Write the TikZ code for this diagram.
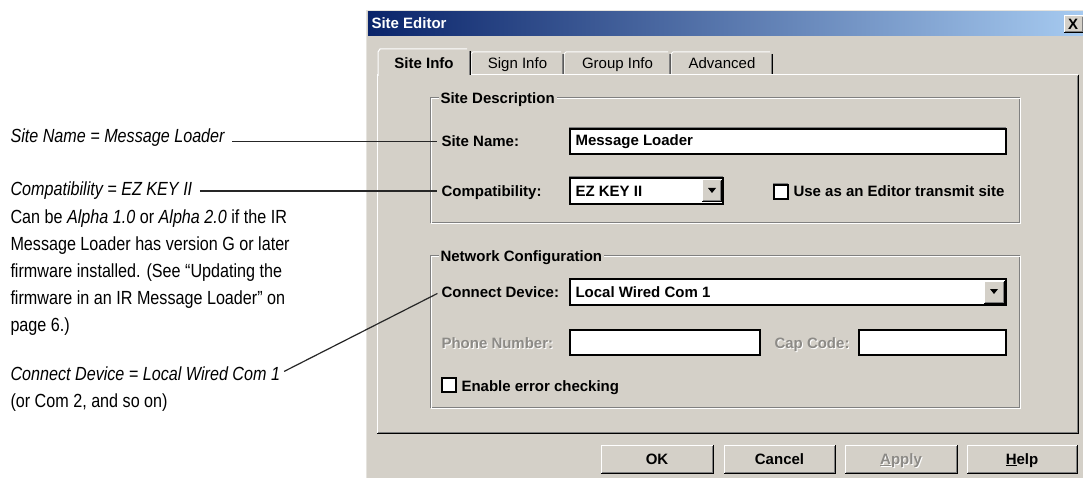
\documentclass[tikz,border=0pt]{standalone}
\usepackage{fontspec}
\setmainfont{Liberation Sans}
\newfontfamily\notefont[FakeStretch=0.85]{Liberation Sans}

\definecolor{winface}{HTML}{D4D0C8}
\definecolor{winshadow}{HTML}{808080}
\definecolor{titledark}{HTML}{0A246A}
\definecolor{titlelight}{HTML}{A6CAF0}
\definecolor{greytext}{HTML}{8C8A86}

\newcommand{\dlgfont}{\fontsize{15}{17}\selectfont}
\newcommand{\annfont}{\notefont\fontsize{19}{27}\selectfont}

% raised 3d edge, (#1,#2) top left and (#3,#4) bottom right
\newcommand{\raisededge}[4]{%
  \fill[winface] (#1,#2) rectangle (#3,#4);
  \draw[white] (#1,#4) -- (#1,#2) -- (#3,#2);
  \draw[black] (#1,#4) -- (#3,#4) -- (#3,#2);
  \draw[winshadow] (#1+1,#4-1) -- (#3-1,#4-1) -- (#3-1,#2+1);
}
% sunken white field
\newcommand{\sunkenfield}[4]{%
  \fill[white] (#1,#2) rectangle (#3,#4);
  \draw[winshadow] (#1-1,#4) -- (#1-1,#2-1) -- (#3,#2-1);
  \draw[black,line width=1.3pt] (#1,#2) rectangle (#3,#4);
}
% etched frame of a group box
\newcommand{\etchedframe}[4]{%
  \draw[winshadow] (#1,#2) rectangle (#3,#4);
  \draw[white] (#1+1,#2+1) -- (#3+1,#2+1) -- (#3+1,#4+1) -- (#1+1,#4+1) -- cycle;
}

\tikzset{
  ann/.style={font=\annfont, inner sep=0pt, anchor=base west},
  callout/.style={draw=black!85, line width=1.2pt, shorten <=7pt, shorten >=4pt},
  dlglabel/.style={font=\dlgfont\bfseries, inner sep=0pt, anchor=base west},
  greylabel/.style={dlglabel, text=greytext},
  fieldtext/.style={font=\dlgfont\bfseries, inner sep=0pt, anchor=base west},
  grouptitle/.style={font=\dlgfont\bfseries, fill=winface, inner xsep=2pt, inner ysep=0pt, anchor=base west},
  tabtext/.style={font=\dlgfont, inner sep=0pt, anchor=base},
  btntext/.style={font=\dlgfont\bfseries, inner sep=0pt, anchor=base},
}

\begin{document}
\begin{tikzpicture}[x=1pt, y=-1pt, line width=1pt]
\useasboundingbox (0,0) rectangle (1083,478);
\fill[white] (0,0) rectangle (1083,478);

% window and title bar
\fill[winface] (366,10) rectangle (1083,478);
\draw[winface!60!white] (366.5,478) -- (366.5,10.5) -- (1083,10.5);
\shade[left color=titledark, right color=titlelight] (368,12) rectangle (1083,36);
\node[anchor=base west, text=white, font=\dlgfont\bfseries, inner sep=0pt] (title) at (371,29) {Site Editor};
\raisededge{1064}{16}{1083}{33}
\node[font=\dlgfont\bfseries, inner sep=0pt, anchor=base] (closebtn) at (1073,30) {X};

% tab page
\raisededge{377}{75}{1078}{433}
\foreach \xa/\xb/\tabname in {470/563/Sign Info, 563/670/Group Info, 670/772/Advanced}{
  \draw[white] (\xa+1,75) -- (\xa+1,54) -- (\xa+3,52) -- (\xb-2,52);
  \draw[black] (\xb,54) -- (\xb,74);
  \draw[winshadow] (\xb-1,54) -- (\xb-1,74);
  \node[tabtext] at ({(\xa+\xb)/2+1},69) {\tabname};
}
\fill[winface] (378,50) rectangle (469,76.5);
\draw[white] (378,76) -- (378,52) -- (380,49) -- (467,49);
\draw[black] (470,51) -- (470,75);
\draw[winshadow] (469,51) -- (469,75);
\node[tabtext, font=\dlgfont\bfseries] (tabsite) at (424,69) {Site Info};

% site description group
\etchedframe{430}{98}{1019}{223}
\node[grouptitle] (grpsite) at (438,104) {Site Description};
\node[dlglabel] (lblSite) at (441,147) {Site Name:};
\sunkenfield{570}{129}{1006}{154}
\node[fieldtext] (valSite) at (575,146) {Message Loader};
\node[dlglabel] (lblCompat) at (441,197) {Compatibility:};
\sunkenfield{570}{178}{723}{204}
\node[fieldtext] (valCompat) at (575,197) {EZ KEY II};
\raisededge{702}{180}{721}{202}
\fill[black] (708,188) -- (716,188) -- (712,193) -- cycle;
\sunkenfield{774}{185}{788}{199}
\node[dlglabel] (lblEditor) at (793,197) {Use as an Editor transmit site};

% network configuration group
\etchedframe{430}{255}{1019}{407}
\node[grouptitle] (grpnet) at (438,261) {Network Configuration};
\node[dlglabel] (lblConn) at (441,297) {Connect Device:};
\sunkenfield{570}{279}{1006}{305}
\node[fieldtext] (valConn) at (575,297) {Local Wired Com 1};
\raisededge{984}{281}{1004}{303}
\fill[black] (990,289) -- (998,289) -- (994,294) -- cycle;
\node[dlglabel, text=white] at (442,349) {Phone Number:};
\node[greylabel] (lblPhone) at (441,348) {Phone Number:};
\sunkenfield{570}{330}{760}{355}
\node[dlglabel, text=white] at (775,349) {Cap Code:};
\node[greylabel] (lblCap) at (774,348) {Cap Code:};
\sunkenfield{859}{330}{1006}{355}
\sunkenfield{442}{378}{456}{392}
\node[dlglabel] (lblCheck) at (461,391) {Enable error checking};

% buttons
\raisededge{601}{445}{713}{473}
\node[btntext] (btnOK) at (657,464) {OK};
\raisededge{724}{445}{835}{473}
\node[btntext] (btnCancel) at (779.5,464) {Cancel};
\raisededge{845}{445}{957}{473}
\node[btntext, text=white] at (902,465) {\underline{A}pply};
\node[btntext, text=greytext] (btnApply) at (901,464) {\underline{A}pply};
\raisededge{967}{445}{1077}{473}
\node[btntext] (btnHelp) at (1022,464) {\underline{H}elp};

% notes on the left
\node[ann] (annSite) at (10,143) {\itshape Site Name = Message Loader};
\node[ann] (annCompat) at (10,196) {\itshape Compatibility = EZ KEY II};
\node[ann, anchor=north west, align=left] (annCompatNote) at (10,209)
  {Can be \textit{Alpha 1.0} or \textit{Alpha 2.0} if the IR\\
   Message Loader has version G or later\\
   firmware installed. (See “Updating the\\
   firmware in an IR Message Loader” on\\
   page 6.)};
\node[ann] (annConn) at (10,380) {\itshape Connect Device = Local Wired Com 1};
\node[ann] (annConnNote) at (10,407) {(or Com 2, and so on)};

\draw[callout] (annSite.east |- lblSite.west) -- (lblSite.west);
\draw[callout] (annCompat.east) -- (annCompat.east -| lblCompat.west);
\draw[callout, shorten <=4pt] (annConn.east) -- (lblConn.west);
\end{tikzpicture}
\end{document}
